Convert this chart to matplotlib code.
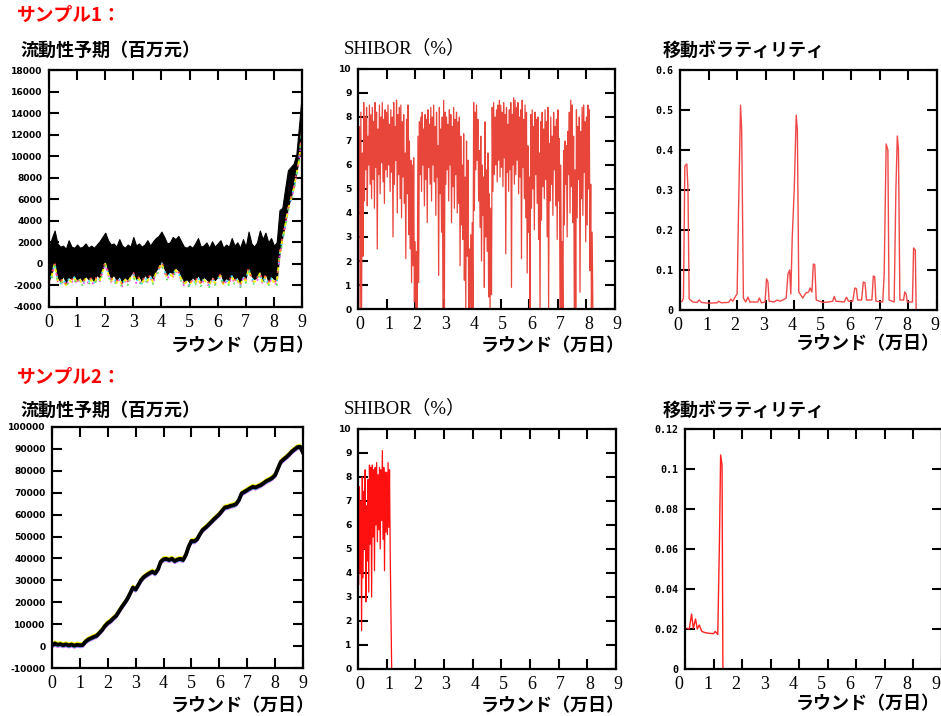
import numpy as np
import matplotlib
matplotlib.use("Agg")
import matplotlib.pyplot as plt
import matplotlib.transforms as mtransforms

plt.rcParams['font.family'] = ['Noto Sans CJK JP', 'DejaVu Sans']

# ---------- data ----------
x_ticks = list(range(10))
x_ticklabels = [str(i) for i in x_ticks]

# sample 1, liquidity expectation: band envelope (thousand, every 0.1 round)
liq1_x = np.linspace(0, 9, 91)
liq1_hi = [1.5, 2.4, 3.1, 1.9, 1.6, 1.7, 1.4, 2.2, 1.6, 1.5,
           1.8, 1.5, 1.6, 1.9, 1.5, 1.7, 1.5, 1.8, 2.1, 2.5,
           2.9, 2.2, 1.8, 1.9, 1.6, 2.3, 1.7, 1.5, 1.8, 1.6,
           2.5, 1.7, 1.9, 1.6, 1.8, 2.2, 1.7, 2.1, 2.4, 2.6,
           3.0, 2.5, 1.9, 2.0, 2.5, 2.3, 2.6, 2.1, 1.6, 1.5,
           1.7, 1.5, 1.9, 2.4, 1.6, 1.7, 2.0, 1.5, 2.1, 1.6,
           1.9, 2.2, 1.5, 1.8, 1.6, 2.4, 1.7, 2.0, 1.5, 2.3,
           1.6, 3.0, 1.9, 1.6, 2.0, 3.1, 2.3, 2.9, 2.0, 2.4,
           1.7, 2.0, 5.0, 5.2, 7.0, 8.7, 9.0, 9.3, 10.2, 13.0,
           16.0]
liq1_lo = [-1.5, -0.8, 0.3, -1.2, -1.6, -1.1, -1.7, -1.2, -1.4, -1.0,
           -1.5, -1.2, -1.6, -1.1, -1.4, -1.2, -1.6, -1.0, -1.3, -0.5,
           0.3, -0.6, -1.3, -1.0, -1.5, -1.1, -1.7, -1.2, -1.5, -1.0,
           -0.7, -1.4, -1.1, -1.6, -1.0, -1.3, -0.9, -1.4, -0.6, -0.3,
           0.4, -0.4, -1.0, -0.7, -0.9, -0.3, -0.6, -1.1, -1.6, -1.4,
           -1.7, -1.2, -1.5, -1.0, -1.6, -1.2, -1.4, -1.7, -1.1, -1.5,
           -1.2, -0.8, -1.6, -1.3, -1.5, -0.9, -1.4, -1.2, -1.8, -1.0,
           -1.3, -0.2, -1.1, -1.4, -1.2, -0.6, -1.5, -0.9, -1.6, -1.1,
           -1.4, -1.5, 1.0, 2.5, 3.8, 5.3, 6.2, 7.2, 8.5, 10.0,
           12.5]

# sample 1, SHIBOR (%): alternating peaks / troughs every 0.05 round
shib1_x = np.linspace(0, 8.2, 165)
shib1_hi = [8.3, 7.6, 8.2, 6.5, 8.6, 8.0, 8.4, 7.2, 8.5, 8.1,
            8.4, 7.8, 8.6, 8.2, 7.5, 8.5, 8.0, 8.6, 7.9, 8.3,
            8.2, 8.5, 7.7, 8.3, 8.0, 8.6, 7.6, 8.7, 8.1, 8.4,
            8.5, 7.8, 8.1, 6.5, 7.9, 8.5, 7.0, 6.2, 6.0, 6.3,
            2.8, 2.4, 7.2, 7.8, 8.0, 8.2, 7.5, 8.1, 7.9, 8.3,
            7.7, 8.4, 8.0, 8.5, 7.6, 8.2, 6.8, 8.4, 7.5, 8.0,
            8.7, 8.2, 8.0, 7.7, 8.3, 8.1, 7.6, 8.4, 7.9, 8.2,
            7.8, 8.0, 7.2, 6.0, 7.3, 5.5, 7.0, 6.2, 2.5, 3.1,
            3.6, 8.6, 8.2, 8.5, 7.9, 6.6, 7.2, 6.0, 5.5, 7.8,
            5.8, 6.5, 4.8, 4.2, 8.4, 8.6, 8.0, 8.3, 8.5, 8.7,
            8.5, 8.2, 8.6, 8.1, 8.4, 7.7, 8.3, 8.6, 8.1, 8.8,
            8.7, 8.4, 8.6, 8.0, 8.3, 8.7, 7.9, 8.5, 8.2, 6.8,
            5.5, 8.1, 8.3, 7.6, 8.2, 7.9, 8.0, 6.5, 7.8, 8.2,
            7.5, 8.3, 7.8, 8.4, 6.9, 8.0, 7.2, 8.2, 7.6, 7.9,
            8.3, 7.1, 6.0, 2.8, 6.6, 7.0, 6.8, 7.4, 8.2, 8.7,
            8.5, 7.2, 5.8, 8.3, 7.6, 8.0, 7.4, 8.4, 8.5, 7.8,
            8.0, 8.5, 8.3, 5.2, 3.2]
shib1_lo = [5.5, 0.0, 0.0, 2.2, 4.5, 5.8, 4.3, 6.0, 5.2, 4.6,
            5.4, 4.2, 5.9, 2.5, 5.6, 4.8, 6.1, 5.3, 4.4, 5.8,
            5.5, 6.0, 4.9, 5.7, 3.0, 5.2, 6.2, 4.0, 5.6, 4.6,
            3.8, 5.5, 4.4, 2.1, 4.8, 3.1, 2.5, 1.1, 1.8, 0.3,
            0.0, 0.0, 1.1, 5.6, 4.9, 6.0, 4.3, 5.4, 3.6, 5.9,
            5.2, 4.5, 6.0, 5.3, 3.9, 5.5, 1.4, 4.8, 3.2, 0.0,
            0.0, 5.2, 5.8, 4.5, 6.0, 3.6, 5.1, 4.2, 5.6, 4.0,
            4.4, 1.8, 3.5, 2.9, 1.2, 0.0, 2.2, 0.0, 0.0, 0.0,
            0.0, 4.1, 5.8, 6.2, 4.5, 3.4, 2.0, 3.9, 0.9, 3.0,
            2.4, 0.5, 0.0, 0.6, 4.9, 5.6, 6.0, 5.3, 6.2, 5.5,
            5.9, 5.1, 6.3, 2.3, 5.7, 4.9, 5.8, 0.9, 6.0, 5.2,
            5.6, 6.2, 4.8, 5.5, 2.1, 5.9, 4.6, 3.8, 1.5, 3.2,
            0.0, 4.2, 5.0, 3.3, 5.6, 4.4, 2.9, 0.0, 3.7, 5.1,
            4.6, 5.4, 3.0, 0.0, 4.5, 5.2, 3.9, 5.8, 4.3, 2.9,
            4.5, 0.0, 0.0, 0.0, 3.5, 5.2, 3.0, 5.6, 4.0, 5.1,
            3.6, 0.0, 0.0, 3.8, 5.4, 0.7, 4.6, 3.9, 5.7, 2.8,
            3.5, 5.0, 1.6, 0.0, 0.0]

# sample 1, moving volatility
vol1_x = [0.00, 0.08, 0.12, 0.17, 0.24, 0.28, 0.32, 0.45, 0.60, 0.67,
          0.75, 1.00, 1.30, 1.35, 1.45, 1.70, 1.78, 1.85, 1.95, 2.00,
          2.05, 2.12, 2.16, 2.22, 2.30, 2.38, 2.45, 2.72, 2.78, 2.85,
          2.98, 3.03, 3.08, 3.12, 3.30, 3.40, 3.50, 3.60, 3.72, 3.78,
          3.84, 3.88, 3.93, 4.00, 4.07, 4.11, 4.16, 4.30, 4.40, 4.50,
          4.56, 4.62, 4.67, 4.72, 4.77, 5.00, 5.20, 5.35, 5.40, 5.46,
          5.75, 5.83, 5.90, 6.05, 6.12, 6.18, 6.22, 6.36, 6.42, 6.48,
          6.53, 6.72, 6.77, 6.82, 6.86, 7.10, 7.15, 7.22, 7.28, 7.32,
          7.50, 7.56, 7.61, 7.65, 7.70, 7.83, 7.87, 7.92, 7.96, 8.14,
          8.18, 8.24, 8.27]
vol1_y = [0.020, 0.022, 0.030, 0.360, 0.365, 0.300, 0.028, 0.020, 0.019, 0.025,
          0.019, 0.017, 0.018, 0.022, 0.018, 0.019, 0.027, 0.022, 0.035, 0.040,
          0.250, 0.512, 0.450, 0.030, 0.020, 0.032, 0.020, 0.020, 0.030, 0.018,
          0.020, 0.078, 0.070, 0.022, 0.020, 0.025, 0.022, 0.025, 0.030, 0.090,
          0.100, 0.040, 0.180, 0.300, 0.487, 0.450, 0.045, 0.030, 0.042, 0.045,
          0.055, 0.045, 0.115, 0.113, 0.025, 0.019, 0.020, 0.022, 0.034, 0.022,
          0.020, 0.032, 0.022, 0.022, 0.055, 0.053, 0.025, 0.025, 0.070, 0.068,
          0.025, 0.025, 0.085, 0.083, 0.022, 0.020, 0.090, 0.415, 0.400, 0.025,
          0.020, 0.300, 0.435, 0.400, 0.025, 0.025, 0.045, 0.040, 0.020, 0.020,
          0.155, 0.150, 0.000]

# sample 2, liquidity expectation (thousand)
liq2_x = np.linspace(0, 9, 91)
liq2_y = [0.3, 1.2, 0.6, 0.9, 0.4, 0.8, 0.3, 0.7, 0.2, 0.6,
          0.4, 0.5, 2.0, 3.0, 3.6, 4.2, 4.7, 6.0, 7.4, 9.2,
          10.5, 11.4, 12.7, 13.8, 15.8, 17.8, 19.6, 21.5, 24.0, 26.7,
          25.8, 28.0, 30.2, 31.6, 32.5, 33.3, 34.0, 33.2, 35.0, 38.5,
          39.6, 39.8, 39.3, 39.9, 38.8, 39.5, 39.8, 39.3, 41.6, 45.4,
          48.0, 47.8, 48.7, 51.0, 53.0, 54.0, 55.2, 56.5, 57.8, 59.0,
          60.2, 61.8, 63.3, 63.5, 64.0, 64.3, 64.8, 66.6, 69.7, 70.4,
          71.2, 72.0, 72.7, 72.4, 73.0, 73.6, 74.5, 75.4, 76.0, 76.8,
          78.0, 81.0, 84.0, 85.2, 86.2, 87.4, 88.8, 89.8, 90.8, 91.0,
          88.3]

# sample 2, SHIBOR (%)
shib2_x = np.linspace(0, 1.15, 24)
shib2_hi = [8.2, 7.6, 7.0, 8.0, 7.4, 8.3, 6.8, 7.9, 8.5, 8.4,
            8.5, 8.3, 8.4, 8.6, 8.1, 8.4, 8.3, 9.1, 8.4, 8.2,
            8.2, 8.6, 8.3, 2.3]
shib2_lo = [3.5, 4.0, 1.6, 3.8, 5.0, 2.8, 4.5, 3.2, 5.2, 3.0,
            5.5, 4.1, 6.0, 5.3, 5.8, 5.0, 6.2, 5.4, 4.1, 5.7,
            5.6, 5.9, 4.7, 0.0]

# sample 2, moving volatility
vol2_x = [0.08, 0.15, 0.23, 0.29, 0.37, 0.43, 0.50, 0.59, 0.68, 0.76,
          0.88, 1.00, 1.06, 1.15, 1.21, 1.25, 1.30, 1.33]
vol2_y = [0.0203, 0.0200, 0.0275, 0.0203, 0.0250, 0.0200, 0.0220, 0.0188, 0.0183, 0.0180,
          0.0178, 0.0177, 0.0188, 0.0173, 0.0650, 0.1070, 0.1020, 0.0]

liq1_yticks = list(range(-4000, 18001, 2000))
liq2_yticks = list(range(-10000, 100001, 10000))
shib_yticks = list(range(0, 11))
vol1_yticks = [0, 0.1, 0.2, 0.3, 0.4, 0.5, 0.6]
vol1_ylabels = ['0', '0.1', '0.2', '0.3', '0.4', '0.5', '0.6']
vol2_yticks = [0, 0.02, 0.04, 0.06, 0.08, 0.1, 0.12]
vol2_ylabels = ['0', '0.02', '0.04', '0.06', '0.08', '0.1', '0.12']

# ---------- layout helpers ----------
W, H = 941, 716
fig = plt.figure(figsize=(W / 100, H / 100), dpi=100)


def box(l, t, r, b):
    return [l / W, 1 - b / H, (r - l) / W, (b - t) / H]


def put(x, y, s, **kw):
    fig.text(x / W, 1 - y / H, s, **kw)


def style(ax, ylim, yticks, ylabels, mono=False, xshift=0):
    ax.set_xlim(0, 9)
    ax.set_xticks(x_ticks)
    ax.set_xticklabels(x_ticklabels, fontfamily='Liberation Serif', fontsize=13)
    ax.set_ylim(*ylim)
    ax.set_yticks(yticks)
    if mono:
        ax.set_yticklabels(ylabels, fontfamily='DejaVu Sans Mono', fontsize=7.2, fontweight='bold')
    else:
        ax.set_yticklabels(ylabels, fontfamily='DejaVu Sans', fontsize=6.6, fontweight='bold')
    ax.tick_params(direction='in', length=7, width=1.5, top=True, right=True)
    ax.tick_params(axis='x', pad=5)
    ax.tick_params(axis='y', pad=4.5)
    for sp in ax.spines.values():
        sp.set_linewidth(1.6)
    if xshift:
        shift = mtransforms.ScaledTranslation(xshift / 100, 0, fig.dpi_scale_trans)
        for lab in ax.get_xticklabels():
            lab.set_transform(lab.get_transform() + shift)


def zig(x, hi, lo, step):
    xs = np.column_stack([x, np.asarray(x) + step]).ravel()
    ys = np.column_stack([hi, lo]).ravel()
    return xs, ys


cjk = dict(fontfamily=['Noto Sans CJK JP'], fontweight='bold', va='center', ha='left')
xl = dict(fontfamily=['Noto Sans CJK JP'], fontweight='bold', fontsize=13, va='center', ha='right')

# ---------- sample 1 ----------
ax1 = fig.add_axes(box(49, 70, 302, 307))
lo1 = np.array(liq1_lo) * 1000
hi1 = np.array(liq1_hi) * 1000
fringe = [('#ff40ff', -4.0, (0, (1, 3))), ('#30e0ff', -2.5, (2, (1, 4))),
          ('#f0f000', -3.0, (1, (2, 3))), ('#60e060', -5.0, (3, (1, 6))),
          ('#ff5050', -1.5, (0, (1, 5)))]
for c, dy, ls in fringe:
    off = mtransforms.offset_copy(ax1.transData, fig=fig, x=0, y=dy, units='dots')
    ax1.plot(liq1_x, lo1, color=c, lw=1.3, ls=ls, transform=off)
ax1.fill_between(liq1_x, lo1, hi1, color='black', lw=0.8, edgecolor='black')
style(ax1, (-4000, 18000), liq1_yticks, [str(v) for v in liq1_yticks])

ax2 = fig.add_axes(box(358, 69, 615, 309))
sx, sy = zig(shib1_x, shib1_hi, shib1_lo, 0.025)
ax2.plot(sx, sy, color='#e8453b', lw=0.9)
style(ax2, (0, 10), shib_yticks, [str(v) for v in shib_yticks], xshift=2)

ax3 = fig.add_axes(box(680, 70, 937, 310))
ax3.plot(vol1_x, vol1_y, color='#f04848', lw=1.0)
style(ax3, (0, 0.6), vol1_yticks, vol1_ylabels, mono=True, xshift=-2)

# ---------- sample 2 ----------
ax4 = fig.add_axes(box(52, 427, 303, 668))
y2 = np.array(liq2_y) * 1000
for c, dy in [('#f0f000', 2.2), ('#ff40ff', -2.2), ('#30e0ff', -1.6)]:
    off = mtransforms.offset_copy(ax4.transData, fig=fig, x=0, y=dy, units='dots')
    ax4.plot(liq2_x, y2, color=c, lw=1.2, transform=off)
ax4.plot(liq2_x, y2, color='black', lw=2.8)
style(ax4, (-10000, 100000), liq2_yticks, [str(v) for v in liq2_yticks])

ax5 = fig.add_axes(box(358, 429, 616, 669))
sx, sy = zig(shib2_x, shib2_hi, shib2_lo, 0.025)
ax5.plot(sx, sy, color='#ff1010', lw=0.9)
style(ax5, (0, 10), shib_yticks, [str(v) for v in shib_yticks], xshift=2)

ax6 = fig.add_axes(box(685, 429, 941.5, 669))
ax6.plot(vol2_x, vol2_y, color='#ff2020', lw=1.0)
style(ax6, (0, 0.12), vol2_yticks, vol2_ylabels, mono=True, xshift=-6)

# ---------- texts ----------
put(17, 15, 'サンプル1：', color='#ff0000', fontsize=13.5, **cjk)
put(17, 377, 'サンプル2：', color='#ff0000', fontsize=13.5, **cjk)
for yy in [50, 410]:
    put(20, yy, '流動性予期（百万元）', fontsize=13, **cjk)
    put(344, yy - 2, 'SHIBOR（%）', fontsize=13.5, fontfamily=['Liberation Serif', 'Noto Sans CJK JP'],
        va='center', ha='left')
    put(663, yy + 1, '移動ボラティリティ', fontsize=13, **cjk)

put(315, 346, 'ラウンド（万日）', **xl)
put(625, 346, 'ラウンド（万日）', **xl)
put(940, 344, 'ラウンド（万日）', **xl)
put(315, 706, 'ラウンド（万日）', **xl)
put(625, 706, 'ラウンド（万日）', **xl)
put(940, 704, 'ラウンド（万日）', **xl)

fig.savefig('out.png', dpi=100)
